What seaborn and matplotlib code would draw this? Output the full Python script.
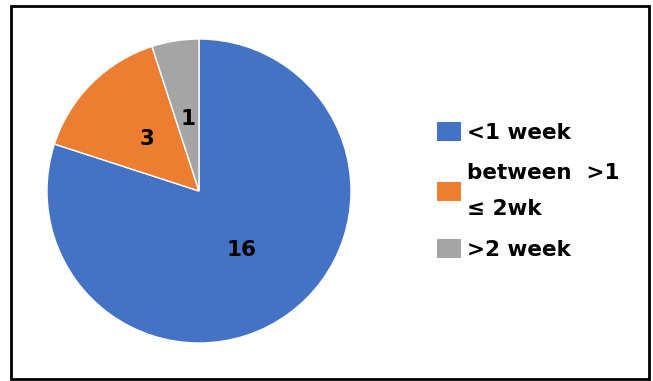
import matplotlib
matplotlib.use("Agg")
import matplotlib.pyplot as plt
import seaborn as sns
from matplotlib.patches import Patch, Rectangle

categories = ["<1 week", "between  >1\n≤ 2wk", ">2 week"]
values = [16, 3, 1]
colors = ["#4472C4", "#ED7D31", "#A5A5A5"]

sns.set_theme(style="white")
plt.rcParams['font.family'] = ['DejaVu Sans']

W, H = 653, 381
fig = plt.figure(figsize=(W / 100, H / 100), dpi=100)
fig.patch.set_facecolor("white")

# pie axes
cx, cy, r = 199, 191, 152
ax = fig.add_axes([(cx - r) / W, 1 - (cy + r) / H, 2 * r / W, 2 * r / H])
wedges, texts, autotexts = ax.pie(
    values, colors=colors, startangle=90, counterclock=False,
    autopct=lambda p: f"{round(p * sum(values) / 100):d}",
    pctdistance=0.48, radius=1.0,
    wedgeprops=dict(edgecolor="white", linewidth=1),
    textprops=dict(fontsize=15.5, fontweight="bold", color="black"))
ax.set_xlim(-1, 1)
ax.set_ylim(-1, 1)
ax.set_aspect("equal")
ax.axis("off")

handles = [Patch(facecolor=c, edgecolor="none") for c in colors]
leg = fig.legend(handles, categories, loc="upper left",
                 bbox_to_anchor=(437 / W, 1 - 122 / H),
                 frameon=False, prop=dict(size=15.5, weight="bold"),
                 borderpad=0, borderaxespad=0,
                 handlelength=1.1, handleheight=1.0, handletextpad=0.3,
                 labelspacing=0.92)
for t in leg.get_texts():
    t.set_color("black")
leg.get_texts()[1].set_linespacing(2.0)

# outer frame
fig.add_artist(Rectangle((11 / W, 1 - 379 / H), 638 / W, 373 / H,
                         transform=fig.transFigure, fill=False,
                         edgecolor="black", linewidth=2))

fig.savefig("out.png", dpi=100)
